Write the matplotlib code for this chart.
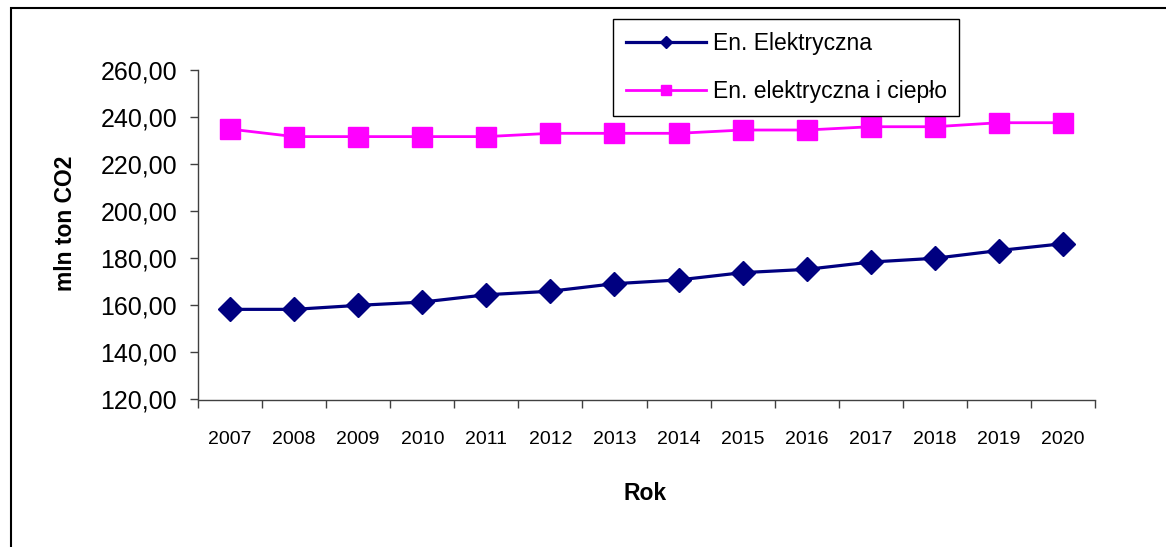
import matplotlib.pyplot as plt
import matplotlib.patches as patches
import numpy as np
from matplotlib.ticker import FixedLocator, NullFormatter

plt.rcParams['font.family'] = ['Liberation Sans', 'DejaVu Sans']

# data
years = ['2007', '2008', '2009', '2010', '2011', '2012', '2013',
         '2014', '2015', '2016', '2017', '2018', '2019', '2020']
elektryczna = [158.3, 158.3, 160.0, 161.4, 164.5, 166.0, 169.2,
               170.8, 173.9, 175.3, 178.4, 180.0, 183.3, 186.2]
elektr_cieplo = [234.9, 231.7, 231.7, 231.7, 231.7, 233.1, 233.1,
                 233.1, 234.5, 234.5, 235.9, 235.9, 237.6, 237.6]
yticks = [120, 140, 160, 180, 200, 220, 240, 260]

W, H = 1166, 547
fig = plt.figure(figsize=(W / 100, H / 100), dpi=100)
ax = fig.add_axes([198 / W, 1 - 399.5 / H, (1095 - 198) / W, (399.5 - 70) / H])

x = np.arange(len(years))
ax.plot(x, elektryczna, color='#000080', lw=2.3, marker='D', ms=12.7,
        label='En. Elektryczna', zorder=3)
ax.plot(x, elektr_cieplo, color='#FF00FF', lw=2.0, marker='s', ms=15,
        label='En. elektryczna i ciepło', zorder=3)

ax.set_xlim(-0.5, len(years) - 0.5)
ax.set_ylim(120, 260)

# Excel style: ticks between categories, labels at centers
ax.xaxis.set_major_locator(FixedLocator(np.arange(-0.5, len(years), 1.0)))
ax.xaxis.set_major_formatter(NullFormatter())
ax.set_xticks(x, years, minor=True)
ax.tick_params(axis='x', which='major', length=6, width=1, color='#404040', direction='out')
ax.tick_params(axis='x', which='minor', length=0, pad=23, labelsize=14)

ax.set_yticks(yticks, [f'{v:.2f}'.replace('.', ',') for v in yticks])
ax.tick_params(axis='y', length=6, width=1, color='#404040', pad=9, labelsize=18)

for s in ['top', 'right']:
    ax.spines[s].set_visible(False)
for s in ['left', 'bottom']:
    ax.spines[s].set_color('#404040')
    ax.spines[s].set_linewidth(1)

fig.text(66 / W, 1 - 223 / H, 'mln ton CO2', rotation=90, ha='center', va='center',
         fontsize=16.5, fontweight='bold')
fig.text(645 / W, 1 - 493 / H, 'Rok', ha='center', va='center',
         fontsize=16.5, fontweight='bold')

leg = ax.legend(loc='upper left', bbox_to_anchor=(613 / W, 1 - 19 / H),
                bbox_transform=fig.transFigure, borderaxespad=0, fontsize=16.5,
                markerscale=0.52, handlelength=3.5, handletextpad=0.3,
                labelspacing=1.12, borderpad=0.55, fancybox=False, framealpha=1,
                edgecolor='black')
leg.get_frame().set_linewidth(1)

# outer chart border
fig.patches.append(patches.Rectangle((11 / W, -0.05), 1.1, 1 - 8 / H + 0.05,
                                     transform=fig.transFigure, fill=False,
                                     edgecolor='black', lw=1.5))

fig.savefig('out.png', dpi=100)
